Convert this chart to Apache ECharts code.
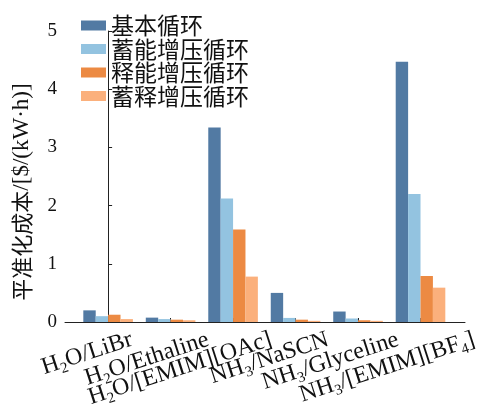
<!DOCTYPE html>
<html><head><meta charset="utf-8">
<script src="https://cdn.jsdelivr.net/npm/echarts@6/dist/echarts.min.js"></script>
<style>html,body{margin:0;padding:0;background:#fff}#c{width:491px;height:413px}</style>
</head><body><div id="c"></div>
<script>
const categories = ['H{s|2}O/LiBr', 'H{s|2}O/Ethaline', 'H{s|2}O/[EMIM][OAc]', 'NH{s|3}/NaSCN', 'NH{s|3}/Glyceline', 'NH{s|3}/[EMIM][BF{s|4}]'];
const seriesNames = ['基本循环', '蓄能增压循环', '释能增压循环', '蓄释增压循环'];
const basic = [0.20, 0.075, 3.34, 0.50, 0.18, 4.47];
const storage = [0.10, 0.05, 2.12, 0.07, 0.06, 2.20];
const release = [0.125, 0.04, 1.59, 0.04, 0.03, 0.79];
const both = [0.05, 0.03, 0.78, 0.02, 0.02, 0.59];
const yTicks = [0, 1, 2, 3, 4, 5];

// label anchor offsets (in category units) from each tick
const labelShift = [0.38, 0.60, 0.61, 0.52, 0.64, 0.86];
const colors = ['#527aa3', '#93c3e0', '#ec8a43', '#fbb07c'];
const values = [basic, storage, release, both];

const chart = echarts.init(document.getElementById('c'));
const idx = categories.map((_, i) => i);
const X_MIN = -0.69, X_MAX = 5.712, PLOT_W = 400;
const X_MAX_WIDE = X_MIN + (X_MAX - X_MIN) * 426 / PLOT_W;
function labelAxis(list) {
  return {
    type: 'value', gridIndex: 1, min: X_MIN, max: X_MAX_WIDE, position: 'bottom',
    axisLine: {show: false}, axisTick: {show: false}, splitLine: {show: false},
    axisLabel: {
      customValues: list.map(i => i + labelShift[i]),
      showMinLabel: true, showMaxLabel: true, hideOverlap: false,
      rotate: 18, margin: 19,
      fontFamily: 'Liberation Serif', fontSize: 24, color: '#111',
      formatter: v => categories[Math.floor(v + 1e-6)],
      rich: {s: {fontFamily: 'Liberation Serif', fontSize: 15, color: '#111', padding: [14, 0, 0, 0]}}
    }
  };
}
chart.setOption({
  animation: false,
  grid: [
    {left: 65, right: 26, top: 31, bottom: 91},
    {left: 65, right: 0, top: 31, bottom: 91},
    {left: 65, right: 26, top: 62, bottom: 91}
  ],
  legend: {
    orient: 'vertical', left: 76, top: 9, itemWidth: 25, itemHeight: 10, itemGap: 0.5,
    icon: 'rect',
    textStyle: {fontFamily: 'Noto Sans CJK SC', fontSize: 23, color: '#111', lineHeight: 23},
    data: seriesNames
  },
  xAxis: [
    {
      type: 'value', gridIndex: 0, min: X_MIN, max: X_MAX, splitLine: {show: false},
      axisLine: {show: true, lineStyle: {color: '#222', width: 1}},
      axisTick: {show: true, inside: true, length: 4, customValues: idx, lineStyle: {color: '#222'}},
      axisLabel: {show: false}
    },
    labelAxis([0, 3]),
    labelAxis([1, 4]),
    labelAxis([2, 5]),
    {type: 'value', gridIndex: 2, show: false}
  ],
  yAxis: [
    {
      type: 'value', gridIndex: 0, min: 0, max: 5, interval: 1,
      axisLine: {show: true, lineStyle: {color: '#222', width: 1}},
      axisTick: {show: true, inside: true, length: 4, lineStyle: {color: '#222'}},
      splitLine: {show: false},
      axisLabel: {margin: 8, fontFamily: 'Liberation Serif', fontSize: 19, color: '#111',
        formatter: v => yTicks.includes(v) ? String(v) : ''}
    },
    {type: 'value', gridIndex: 1, min: 0, max: 5, show: false},
    {
      type: 'value', gridIndex: 2, min: 0, max: 5,
      name: '{c|平准化成本}{l|/[$/(kW·h)]}', nameLocation: 'middle', nameGap: 32,
      nameTextStyle: {
        rich: {c: {fontFamily: 'Noto Sans CJK SC', fontSize: 22, color: '#111'},
               l: {fontFamily: 'Liberation Serif', fontSize: 23, color: '#111'}}},
      axisLine: {show: false}, axisTick: {show: false}, axisLabel: {show: false},
      splitLine: {show: false}
    }
  ],
  series: seriesNames.map((n, s) => ({
    name: n, type: 'bar', barWidth: 12.4, barGap: '0%', xAxisIndex: 0, yAxisIndex: 0,
    itemStyle: {color: colors[s]},
    data: values[s].map((v, i) => [i, v])
  }))
});
</script></body></html>
